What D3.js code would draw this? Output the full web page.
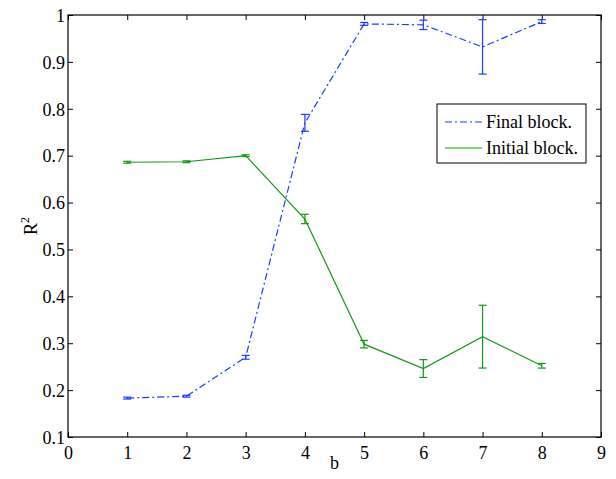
<!DOCTYPE html>
<html><head><meta charset="utf-8">
<script src="https://cdn.jsdelivr.net/npm/d3@7"></script>
<style>body{margin:0;background:#fff;} svg{display:block;} text{font-family:"Liberation Serif","Times New Roman",serif;}</style>
</head><body><svg id="c" width="616" height="479"></svg>
<script>
const bValues = [1,2,3,4,5,6,7,8];
const finalMean = [0.183,0.187,0.270,0.770,0.981,0.979,0.932,0.986];
const finalErr  = [0.002,0.002,0.004,0.018,0.003,0.010,0.058,0.004];
const initialMean = [0.686,0.687,0.700,0.565,0.298,0.246,0.314,0.252];
const initialErr  = [0.002,0.002,0.002,0.010,0.008,0.019,0.067,0.005];
const xTicks = [0,1,2,3,4,5,6,7,8,9];
const yTicks = [0.1,0.2,0.3,0.4,0.5,0.6,0.7,0.8,0.9,1];
const seriesNames = ["Final block.","Initial block."];

const svg = d3.select("#c");
const L=68,R=601,T=15,B=437;
const FS=18;
const x = d3.scaleLinear().domain([0,9]).range([L,R]);
const y = d3.scaleLinear().domain([0.1,1]).range([B,T]);
const fmtY = d => d===1?"1":d3.format(".1f")(d);

const tk=5;
const gx = svg.append("g").attr("transform",`translate(0,${B})`)
  .call(d3.axisBottom(x).tickValues(xTicks).tickSize(-tk).tickFormat(d3.format("d")));
const gxt = svg.append("g").attr("transform",`translate(0,${T})`)
  .call(d3.axisTop(x).tickValues(xTicks).tickSize(-tk).tickFormat(""));
const gy = svg.append("g").attr("transform",`translate(${L},0)`)
  .call(d3.axisLeft(y).tickValues(yTicks).tickSize(-tk).tickPadding(3).tickFormat(fmtY));
const gyr = svg.append("g").attr("transform",`translate(${R},0)`)
  .call(d3.axisRight(y).tickValues(yTicks).tickSize(-tk).tickFormat(""));
[gx,gxt,gy,gyr].forEach(g=>{
  g.attr("font-family",null);
  g.select(".domain").remove();
  g.selectAll(".tick line").attr("stroke","#000").attr("stroke-width",1);
  g.selectAll("text").attr("font-size",FS).attr("fill","#000").attr("font-family","Liberation Serif");
});
gx.selectAll("text").attr("y",22).attr("dy",null);
gy.selectAll("text").attr("dy","0.35em");
svg.append("rect").attr("x",L).attr("y",T).attr("width",R-L).attr("height",B-T)
  .attr("fill","none").attr("stroke","#000").attr("stroke-width",1.2);

svg.append("text").attr("x",(L+R)/2).attr("y",469).attr("text-anchor","middle")
  .attr("font-size",FS).text("b");
const yl = svg.append("text").attr("transform",`translate(37,${(T+B)/2}) rotate(-90)`)
  .attr("text-anchor","middle").attr("font-size",FS);
yl.append("tspan").text("R");
yl.append("tspan").attr("font-size",12).attr("dy",-8).text("2");

const series = [
  {name:seriesNames[0], mean:finalMean, err:finalErr, color:"#1a3cff", dash:"7,3,2,3"},
  {name:seriesNames[1], mean:initialMean, err:initialErr, color:"#119a11", dash:null}
];
const line = d3.line().x((d,i)=>x(bValues[i])).y(d=>y(d));
series.forEach(s=>{
  const g = svg.append("g");
  g.append("path").attr("d",line(s.mean)).attr("fill","none").attr("stroke",s.color)
    .attr("stroke-width",1.2).attr("stroke-dasharray",s.dash);
  s.mean.forEach((m,i)=>{
    const cx=x(bValues[i]), y0=y(m-s.err[i]), y1=y(m+s.err[i]);
    g.append("line").attr("x1",cx).attr("x2",cx).attr("y1",y0).attr("y2",y1).attr("stroke",s.color).attr("stroke-width",1.2);
    [y0,y1].forEach(yy=>g.append("line").attr("x1",cx-4).attr("x2",cx+4).attr("y1",yy).attr("y2",yy).attr("stroke",s.color).attr("stroke-width",1.2));
  });
});

const lg = svg.append("g");
lg.append("rect").attr("x",437).attr("y",104).attr("width",149).attr("height",59)
  .attr("fill","#fff").attr("stroke","#000").attr("stroke-width",1);
series.forEach((s,i)=>{
  const yy = 122 + i*26;
  lg.append("line").attr("x1",445).attr("x2",482).attr("y1",yy).attr("y2",yy)
    .attr("stroke",s.color).attr("stroke-width",1.2).attr("stroke-dasharray",s.dash);
  lg.append("text").attr("x",486).attr("y",yy).attr("dy","0.35em").attr("font-size",FS).text(s.name);
});
</script></body></html>
